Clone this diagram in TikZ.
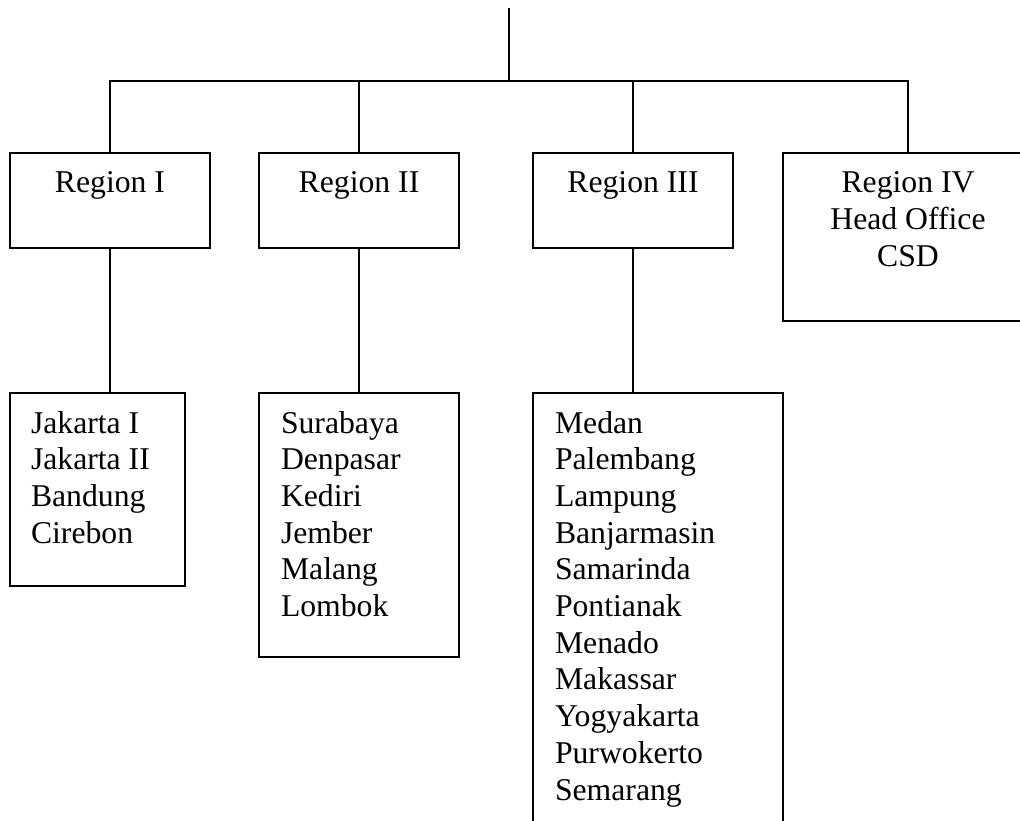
\documentclass[tikz,border=0pt]{standalone}
\usepackage{fontspec}
\setmainfont{Liberation Serif}
\begin{document}
\begin{tikzpicture}[x=1pt, y=-1pt,
  box/.style={draw, line width=2pt, rectangle, inner sep=0pt, outer sep=0pt, anchor=north west},
  txt/.style={inner sep=0pt, outer sep=0pt, font=\fontsize{31.7}{36.7}\selectfont},
  link/.style={line width=2pt}]
\useasboundingbox (0,0) rectangle (1020,821);
\clip (0,0) rectangle (1020,821);

% region boxes
\node[box, minimum width=200pt, minimum height=95pt]  (r1) at (10,153) {};
\node[box, minimum width=200pt, minimum height=95pt]  (r2) at (259,153) {};
\node[box, minimum width=200pt, minimum height=95pt]  (r3) at (533,153) {};
\node[box, minimum width=250pt, minimum height=168pt] (r4) at (783,153) {};

% branch boxes
\node[box, minimum width=175pt, minimum height=193pt] (jak) at (10,393) {};
\node[box, minimum width=200pt, minimum height=264pt] (sur) at (259,393) {};
\node[box, minimum width=250pt, minimum height=460pt] (med) at (533,393) {};

% region titles
\node[txt, anchor=base] (t1) at (110,193) {Region I};
\node[txt, anchor=base] (t2) at (359,193) {Region II};
\node[txt, anchor=base] (t3) at (633,193) {Region III};
\node[txt, anchor=base] (t4) at (908,193)
  {\parbox[t]{250pt}{\centering Region IV\\Head Office\\CSD}};

% branch lists
\node[txt, anchor=base west] (l1) at (31,433)
  {\parbox[t]{160pt}{\raggedright Jakarta I\\Jakarta II\\Bandung\\Cirebon}};
\node[txt, anchor=base west] (l2) at (281,433)
  {\parbox[t]{170pt}{\raggedright Surabaya\\Denpasar\\Kediri\\Jember\\Malang\\Lombok}};
\node[txt, anchor=base west] (l3) at (555,433)
  {\parbox[t]{220pt}{\raggedright Medan\\Palembang\\Lampung\\Banjarmasin\\Samarinda\\Pontianak\\Menado\\Makassar\\Yogyakarta\\Purwokerto\\Semarang}};

% connectors
\coordinate (top) at (509,8);
\coordinate (bus) at (509,81);
\draw[link] (top) -- (bus);
\draw[link] (r1.north) |- (bus) -| (r4.north);
\draw[link] (r2.north) -- (r2.north |- bus);
\draw[link] (r3.north) -- (r3.north |- bus);
\draw[link] (r1.south) -- (r1.south |- jak.north);
\draw[link] (r2.south) -- (r2.south |- sur.north);
\draw[link] (r3.south) -- (r3.south |- med.north);
\end{tikzpicture}
\end{document}
